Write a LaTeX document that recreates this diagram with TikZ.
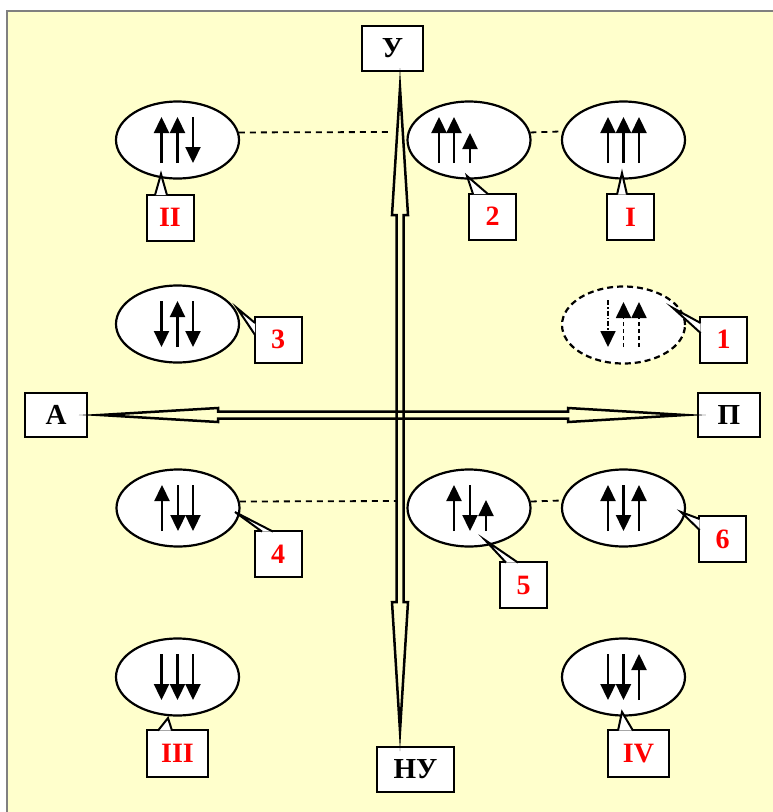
\documentclass[tikz,border=0pt]{standalone}
\usepackage{fontspec}
\setmainfont{Liberation Serif}
\usetikzlibrary{shapes.geometric,arrows.meta,calc}
\definecolor{paper}{HTML}{FFFFCC}
\definecolor{framegray}{HTML}{808080}
\definecolor{lblred}{HTML}{FF0000}

% pointer of a callout box, opening on the top edge
\newcommand\calltop[4]{%
  \fill[white] ($(#1.north)+(#2,1.6)$) -- (#4) -- ($(#1.north)+(#3,1.6)$) -- cycle;
  \draw[ptr] ($(#1.north)+(#2,1.6)$) -- (#4) -- ($(#1.north)+(#3,1.6)$);}
% pointer of a callout box, opening on the left edge
\newcommand\callleft[4]{%
  \fill[white] ($(#1.west)+(1.6,#2)$) -- (#4) -- ($(#1.west)+(1.6,#3)$) -- cycle;
  \draw[ptr] ($(#1.west)+(1.6,#2)$) -- (#4) -- ($(#1.west)+(1.6,#3)$);}
% spin arrows, relative to an orbital centre
\newcommand\upsp[1]{\draw[spin] (#1,23) -- (#1,-23);}
\newcommand\dnsp[1]{\draw[spin] (#1,-23) -- (#1,23);}

\begin{document}
\begin{tikzpicture}[x=1pt,y=-1pt,
  orb/.style={ellipse,draw=black,fill=white,line width=2.2pt,minimum width=123pt,minimum height=77pt,inner sep=0pt},
  axisbox/.style={draw=black,fill=white,line width=2pt,inner sep=0pt,minimum height=45pt,font=\fontsize{29}{32}\selectfont\bfseries},
  callbox/.style={draw=black,fill=white,line width=2pt,inner sep=0pt,minimum width=47pt,minimum height=46pt,text=lblred,font=\fontsize{28}{31}\selectfont\bfseries},
  ptr/.style={line width=2pt,line join=miter},
  spin/.style={line width=2.3pt,-{Triangle[width=15pt,length=16pt]}},
  axisarrow/.style={draw=black,line width=2.5pt,line join=miter,miter limit=30},
  link/.style={line width=1.8pt,dash pattern=on 6pt off 5pt}
]
\useasboundingbox (0,0) rectangle (773,812);
% sheet
\fill[white] (0,0) rectangle (773,812);
\fill[paper] (7,11) rectangle (773,812);
\draw[framegray,line width=2.4pt] (7,812) -- (7,11) -- (773,11);

% axis labels
\node[axisbox,minimum width=61pt] (U)  at (392.5,48.5) {У};
\node[axisbox,minimum width=77pt] (NU) at (415.5,769) {НУ};
\node[axisbox,minimum width=62pt,minimum height=44pt] (A)  at (56,415) {А};
\node[axisbox,minimum width=62pt,minimum height=44pt] (P)  at (729,415) {П};

% vertical double-headed axis
\coordinate (vtop) at (400,88);
\coordinate (vbot) at (400,731);
\draw[axisarrow] (vtop) -- ++(8,127) -- ++(-4.5,0) -- ($(vbot)+(3.5,-129)$) -- ++(4.5,0) -- (vbot)
  -- ++(-8,-129) -- ++(4.5,0) -- ($(vtop)+(-3.5,127)$) -- ++(-4.5,0) -- cycle;
% horizontal double-headed axis
\coordinate (hl) at (100,415);
\coordinate (hr) at (685,415);
\draw[axisarrow] (hl) -- ++(118,-7) -- ++(0,3.5) -- ($(hr)+(-117,-3.5)$) -- ++(0,-3.5) -- (hr)
  -- ++(-117,7) -- ++(0,-3.5) -- ($(hl)+(118,3.5)$) -- ++(0,3.5) -- cycle;

% orbitals
\node[orb] (eII)  at (177.5,140) {};
\node[orb] (e2)   at (469,140) {};
\node[orb] (eI)   at (623.5,140) {};
\node[orb] (e3)   at (177.5,324) {};
\node[orb,dash pattern=on 6pt off 4pt] (e1) at (623.5,325) {};
\node[orb] (e4)   at (178,508) {};
\node[orb] (e5)   at (469,508) {};
\node[orb] (e6)   at (623.5,508) {};
\node[orb] (eIII) at (177.5,677) {};
\node[orb] (eIV)  at (623.5,677) {};

% dashed links
\coordinate (d1) at (388,132);
\coordinate (d3) at (396,501);
\draw[link] (eII.7.6) -- (d1);
\draw[link] (e2.7.6) -- (eI.172.4);
\draw[link] (e4.6.7) -- (d3);
\draw[link] (e5.6.7) -- (e6.173.3);

% spins
\begin{scope}[shift={(eII.center)}] \upsp{-16} \upsp{0} \dnsp{15.5} \end{scope}
\begin{scope}[shift={(e2.center)}] \upsp{-30} \upsp{-15}
  \draw[spin] (1,23) -- (1,-7); \end{scope}
\begin{scope}[shift={(eI.center)}] \upsp{-15.5} \upsp{0} \upsp{15.5} \end{scope}
\begin{scope}[shift={(e3.center)}] \dnsp{-16} \upsp{0} \dnsp{15.5} \end{scope}
\begin{scope}[shift={(e1.center)}]
  \draw[spin,line width=1.8pt,dash pattern=on 5pt off 2pt on 1.5pt off 2pt] (-15.5,-25) -- (-15.5,22);
  \draw[spin,line width=1.8pt,dash pattern=on 4pt off 3pt] (0,22) -- (0,-23);
  \draw[spin,line width=1.8pt,dash pattern=on 4pt off 3pt] (15.5,22) -- (15.5,-23);
\end{scope}
\begin{scope}[shift={(e4.center)}] \upsp{-16} \dnsp{0} \dnsp{15} \end{scope}
\begin{scope}[shift={(e5.center)}] \upsp{-15} \dnsp{1}
  \draw[spin] (17,23) -- (17,-8); \end{scope}
\begin{scope}[shift={(e6.center)}] \upsp{-15.5} \dnsp{0} \upsp{15.5} \end{scope}
\begin{scope}[shift={(eIII.center)}] \dnsp{-16} \dnsp{0} \dnsp{15.5} \end{scope}
\begin{scope}[shift={(eIV.center)}] \dnsp{-15.5} \dnsp{0} \upsp{15.5} \end{scope}

% callouts
\coordinate (tII) at (161,174);
\coordinate (t2) at (467,176);
\coordinate (tI) at (622,173);
\coordinate (t3) at (237,308);
\coordinate (t1) at (673,308);
\coordinate (t4) at (235,512);
\coordinate (t5) at (485,540);
\coordinate (t6) at (681,512);
\coordinate (tIII) at (168,718);
\coordinate (tIV) at (622,712);

\node[callbox] (cII) at (170,217.5) {II};
\node[callbox] (c2) at (492.5,216.5) {2};
\node[callbox] (cI) at (630.5,217) {I};
\node[callbox] (c3) at (278,339.5) {3};
\node[callbox] (c1) at (723.5,339.5) {1};
\node[callbox] (c4) at (278,554) {4};
\node[callbox] (c5) at (523.5,585) {5};
\node[callbox] (c6) at (722.5,539) {6};
\node[callbox,minimum width=61pt,minimum height=47pt] (cIII) at (177.5,753.5) {III};
\node[callbox,minimum width=61pt,minimum height=47pt] (cIV) at (638.5,753.5) {IV};

\calltop{cII}{-15}{-3}{tII}
\calltop{c2}{-19.5}{-4.5}{t2}
\calltop{cI}{-13.5}{-3.5}{tI}
\callleft{c3}{-16.5}{-4.5}{t3}
\callleft{c1}{-16.5}{-6.5}{t1}
\calltop{c4}{-16}{-5}{t4}
\calltop{c5}{-17.5}{-5.5}{t5}
\callleft{c6}{-20}{-9}{t6}
\calltop{cIII}{-19.5}{-5.5}{tIII}
\calltop{cIV}{-20.5}{-5.5}{tIV}
\end{tikzpicture}
\end{document}
